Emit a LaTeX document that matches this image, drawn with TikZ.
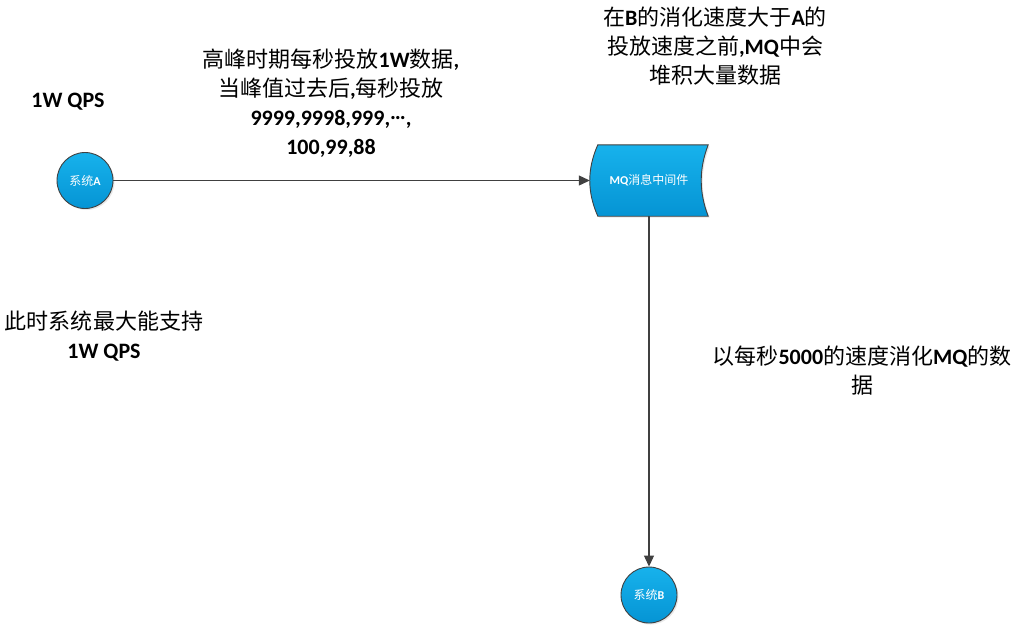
\documentclass[tikz,border=0pt]{standalone}
\usepackage{fontspec}
\setmainfont{Carlito}
\newfontfamily\cjkfont{Noto Sans CJK SC}
\usetikzlibrary{arrows.meta,shadows,calc}
\definecolor{edgegray}{HTML}{404040}
\definecolor{bluetop}{HTML}{17B2EC}
\definecolor{bluebot}{HTML}{0594D4}
\newcommand\zh[1]{{\cjkfont\mdseries #1}}
\begin{document}
\begin{tikzpicture}[x=1pt,y=-1pt,
  lbl/.style={font=\fontsize{22}{29}\selectfont\bfseries, align=center, inner sep=0pt, text=black},
  sys/.style={circle, minimum size=56pt, inner sep=0pt, draw=edgegray, line width=0.9pt,
    top color=bluetop, bottom color=bluebot, text=white,
    font=\fontsize{12}{14}\selectfont\bfseries,
    drop shadow={opacity=0.18, shadow xshift=1.5pt, shadow yshift=-1.5pt}},
  mqshape/.style={draw=edgegray, line width=0.9pt, top color=bluetop, bottom color=bluebot,
    drop shadow={opacity=0.18, shadow xshift=1.5pt, shadow yshift=-1.5pt}},
  link/.style={draw=edgegray, line width=1.1pt, -{Triangle[length=11pt,width=10pt]}}]
\fill[white] (0,0) rectangle (1024,630);
\useasboundingbox (0,0) rectangle (1024,630);

% MQ box (invisible anchor node)
\node[minimum width=118pt, minimum height=71pt, inner sep=0pt] (mq) at (649,180.5) {};
\path[mqshape] ($(mq.north west)+(8,0)$) -- (mq.north east)
  .. controls ($(mq.north east)+(-9.3,24)$) and ($(mq.south east)+(-9.3,-24)$) .. (mq.south east)
  -- ($(mq.south west)+(8,0)$)
  .. controls ($(mq.south west)+(-2.7,-24)$) and ($(mq.north west)+(-2.7,24)$) .. ($(mq.north west)+(8,0)$) -- cycle;
\node[text=white, font=\fontsize{12}{14}\selectfont\bfseries] (mqlabel) at (mq.center) {MQ\zh{消息中间件}};

\node[sys] (a) at (85,180.5) {\zh{系统}A};
\node[sys] (b) at (649,595) {\zh{系统}B};

\draw[link] (a) -- (mq.west);
\draw[link] (mq.south) -- (b);

\node[lbl] (t1) at (331,103) {\zh{高峰时期每秒投放}1W\zh{数据},\\\zh{当峰值过去后},\zh{每秒投放}\\9999,9998,999,\raisebox{0.25em}{…},\\100,99,88};
\node[lbl] (t2) at (715,46) {\zh{在}B\zh{的消化速度大于}A\zh{的}\\\zh{投放速度之前},MQ\zh{中会}\\\zh{堆积大量数据}};
\node[lbl] (t3) at (862,371) {\zh{以每秒}5000\zh{的速度消化}MQ\zh{的数}\\\zh{据}};
\node[lbl] (t4) at (68,102) {1W QPS};
\node[lbl] (t5) at (104,336) {\zh{此时系统最大能支持}\\1W QPS};
\end{tikzpicture}
\end{document}
